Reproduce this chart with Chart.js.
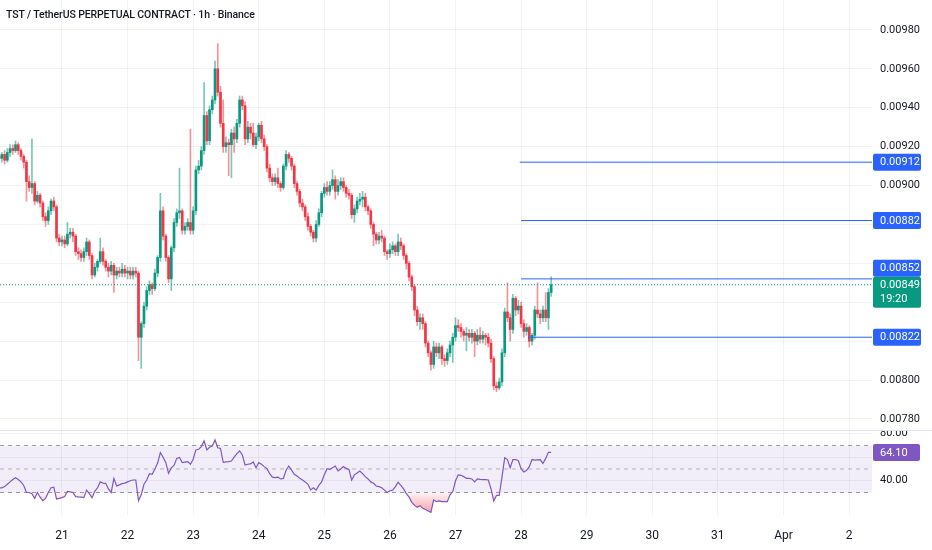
<!DOCTYPE html>
<html>
<head>
<meta charset="utf-8">
<script src="https://cdn.jsdelivr.net/npm/chart.js@4.4.1/dist/chart.umd.min.js"></script>
<style>
  html, body { margin: 0; padding: 0; background: #fff; }
  #wrap { position: relative; width: 932px; height: 550px; overflow: hidden; font-family: Roboto, "Noto Sans", sans-serif; }
  #priceBox { position: absolute; left: 0; top: 0; width: 932px; height: 430px; }
  #rsiBox { position: absolute; left: 0; top: 430px; width: 932px; height: 120px; border-top: 1px solid #e0e3eb; box-sizing: border-box; }
  #title { position: absolute; left: 6px; top: 8px; font-size: 10.5px; font-weight: 500; letter-spacing: -0.12px; color: #131722; white-space: nowrap; }
</style>
</head>
<body>
<div id="wrap">
  <div id="priceBox"><canvas id="priceChart" width="932" height="430"></canvas></div>
  <div id="rsiBox"><canvas id="rsiChart" width="932" height="119"></canvas></div>
  <div id="title">TST / TetherUS PERPETUAL CONTRACT · 1h · Binance</div>
</div>
<script>
// prices in units of 0.00001 USDT, one candle per hour, first candle = Mar 20 01:00
const firstHour = 1;
const openPrices = [
  915,914,916,913,917,919,918,921,918,915, 912,902,899,901,892,895,891,884,882,887,
  892,889,873,871,872,870,875,876,874,866, 865,863,866,871,864,854,858,861,866,861,
  858,856,859,854,856,855,857,855,856,854, 856,855,822,829,838,846,849,847,855,863,
  887,874,863,852,868,881,886,887,877,879, 881,877,887,908,910,918,936,923,939,944,
  960,948,932,920,922,921,927,924,932,944, 941,924,930,927,921,925,931,924,920,909,
  904,902,904,901,899,910,916,914,910,901, 897,891,889,884,879,876,873,880,886,896,
  899,897,900,903,897,900,902,899,896,895, 885,888,892,893,894,889,887,880,875,872,
  874,873,866,865,867,869,866,871,869,864, 860,853,848,836,830,832,829,819,814,808,
  817,814,817,811,810,814,818,822,828,827, 825,823,824,822,824,820,823,821,823,822,
  819,811,797,796,799,814,835,832,826,842, 836,838,829,825,827,820,823,836,834,832,
  836,832,845
];
const highPrices = [
  918,917,918,919,921,921,923,922,919,916, 913,905,924,902,897,896,892,886,889,893,
  894,890,875,874,874,881,878,878,875,868, 867,868,873,872,865,860,862,873,868,862,
  860,861,860,858,858,860,859,858,858,858, 858,856,830,840,848,851,850,857,864,896,
  889,875,864,869,883,888,909,888,881,883, 929,889,910,913,920,953,938,941,946,964,
  973,951,944,925,924,929,930,934,946,946, 943,933,932,932,927,932,933,926,921,911,
  906,906,909,902,911,918,917,915,911,902, 898,893,890,886,880,877,882,888,897,901,
  902,902,908,905,903,904,904,900,898,896, 890,894,896,897,896,890,888,881,876,876,
  877,874,867,870,871,870,875,873,870,865, 861,854,849,838,834,834,830,820,815,820,
  819,819,818,813,816,820,824,832,831,829, 826,827,826,826,825,826,827,825,824,824,
  821,812,799,801,816,837,850,834,844,843, 841,840,831,829,828,824,838,850,836,838,
  845,847,853
];
const lowPrices = [
  913,912,911,912,915,916,917,916,913,909, 892,897,896,890,891,889,882,879,880,885,
  887,871,869,869,868,869,873,871,864,862, 861,861,864,862,852,853,856,860,859,856,
  853,854,845,852,853,853,853,852,852,852, 853,810,806,827,836,844,844,846,853,861,
  872,861,850,846,866,879,883,875,875,877, 875,875,885,906,908,916,921,921,937,942,
  946,930,917,917,905,904,917,922,930,939, 921,922,924,920,919,923,922,918,907,902,
  900,900,899,897,898,908,912,908,899,895, 889,887,882,877,874,871,871,879,884,894,
  895,895,898,893,895,898,897,894,893,883, 881,886,890,889,887,885,878,869,870,870,
  871,864,862,863,865,864,864,867,862,857, 851,846,833,828,826,826,817,812,805,806,
  812,811,808,807,808,812,809,820,825,822, 820,815,820,819,812,818,819,819,818,817,
  809,795,794,795,797,812,830,820,824,833, 834,827,822,823,817,818,821,832,829,830,
  830,826,843
];
const closePrices = [
  914,916,913,917,919,918,921,918,915,912, 902,899,901,892,895,891,884,882,887,892,
  889,873,871,872,870,875,876,874,866,865, 863,866,871,864,854,858,861,866,861,858,
  856,859,854,856,855,857,855,856,854,856, 855,822,829,838,846,849,847,855,863,887,
  874,863,852,868,881,886,887,877,879,881, 877,887,908,910,918,936,923,939,944,960,
  948,932,920,922,921,927,924,932,944,941, 924,930,927,921,925,931,924,920,909,904,
  902,904,901,899,910,916,914,910,901,897, 891,889,884,879,876,873,880,886,896,899,
  897,900,903,897,900,902,899,896,895,885, 888,892,893,894,889,887,880,875,872,874,
  873,866,865,867,869,866,871,869,864,860, 853,848,836,830,832,829,819,814,808,817,
  814,817,811,810,814,818,822,828,827,825, 823,824,822,824,820,823,821,823,822,819,
  811,797,796,799,814,835,832,826,842,836, 838,829,825,827,820,823,836,834,832,836,
  832,845,849
];
const rsiValues = [
  34,34,35,37,39,41,42.6,41,39,36, 30,30,29,25,30,26,23,25,30,34,
  34.5,24.5,25,25.6,26.5,31,30.5,30,26.5,26.2, 26,25.6,32,29,25.6,31,34,39,38,37.8,
  33,30,42,35.6,36.5,37.5,38,39,40,40.6, 40.6,23,28,37,40.6,46,45.5,50,55,64,
  60,55.4,46.3,51,53,59,59.8,55.4,55.8,56.2, 54,58.3,66.2,66.8,69,73.8,66.2,68.5,69.5,74.7,
  68,67.5,55.7,56,56.3,56.8,60,63,65.3,61.9, 53.4,54,54.3,56,51.1,55.4,54,52,50.3,46,
  43,42.6,43.1,41.5,42,48.9,52.5,49,45.5,44, 42,40.6,39,37,32.2,34,32,36,39,45,
  50.2,49.6,51,52.5,48.3,50,52,50.5,49.6,40.6, 45,46.5,48.3,46,43.5,41.5,39,37.8,35.5,35,
  34,32,30,31.5,32,35,38.7,36,33,29, 26,21.6,19,17.4,18.8,16.5,15.5,14.2,13.1,23.6,
  22.2,22.8,22.2,22.2,22.2,28,30.8,40,45,44.6, 43.5,42,42,41.5,39,41.5,41.2,41,41,40.6,
  33,22.8,27.5,27.5,43,59.6,58,51,58,58, 57,50.2,47.5,48.9,52,58,57.5,57.8,58,54.7,
  59,64.2,64.1
];

const dayTicks = [24, 48, 72, 96, 120, 144, 168, 192, 216, 240, 264, 288, 312];
const dayLabels = ['21', '22', '23', '24', '25', '26', '27', '28', '29', '30', '31', 'Apr', '2'];
const priceTicks = [780, 800, 820, 840, 860, 880, 900, 920, 940, 960, 980];
const levelPrices = [912, 882, 852, 822];
const levelStartHours = [191.5, 192, 192, 194.5];
const rsiLevels = [70, 50, 30];
const rsiTicks = [40, 60, 80];
const countdown = '19:20';

const xMin = 1.32, xMax = 320.4;
const GREEN = '#089981', RED = '#f23645', BLUE = '#2962ff', PURPLE = '#7e57c2';
const GRID = 'rgba(42,46,57,0.06)';
const TEXT = '#131722';
const FAMILY = 'Roboto, "Noto Sans", sans-serif';
const AXIS_FONT = { family: FAMILY, size: 11 };
const DAY_FONT = { family: FAMILY, size: 12 };

const hours = closePrices.map((_, i) => firstHour + i);
const isUp = closePrices.map((c, i) => c >= openPrices[i]);
const lastPrice = closePrices[closePrices.length - 1];
const lastRsi = rsiValues[rsiValues.length - 1];
const fmtPrice = v => (v / 100000).toFixed(5);

function noPad(scale) {
  scale.paddingTop = 0; scale.paddingBottom = 0;
  scale.paddingLeft = 0; scale.paddingRight = 0;
}
function fixWidth(scale) { scale.width = 60; noPad(scale); }

// price-axis tags: blue for the drawn levels, green for the last price (+ countdown)
const BOX_H = 17;
function priceTags(y) {
  const cy = y.getPixelForValue(lastPrice);
  const cur = { top: cy - 8, bottom: cy + 23 };
  const tags = levelPrices.map(p => {
    const py = y.getPixelForValue(p);
    let top = py - BOX_H / 2;
    if (top < cur.bottom && top + BOX_H > cur.top) top = py < cy ? cur.top - BOX_H : cur.bottom;
    return { p, top, bottom: top + BOX_H };
  });
  return { cy, cur, tags };
}

function drawBox(ctx, x, top, w, h, color) {
  ctx.fillStyle = color;
  ctx.beginPath();
  if (ctx.roundRect) ctx.roundRect(x, top, w, h, 2); else ctx.rect(x, top, w, h);
  ctx.fill();
}

const priceBoxes = {
  id: 'priceBoxes',
  afterDraw(chart) {
    const { ctx } = chart;
    const y = chart.scales.y;
    const left = y.left + 1, w = 48;
    const { cy, cur, tags } = priceTags(y);
    ctx.save();
    ctx.font = '11px ' + FAMILY;
    ctx.textBaseline = 'middle';
    tags.forEach(t => {
      drawBox(ctx, left, t.top, w, BOX_H, BLUE);
      ctx.fillStyle = '#fff';
      ctx.fillText(fmtPrice(t.p), left + 7, t.top + BOX_H / 2 + 0.5);
    });
    drawBox(ctx, left, cur.top, w, cur.bottom - cur.top, GREEN);
    ctx.fillStyle = '#fff';
    ctx.fillText(fmtPrice(lastPrice), left + 7, cy + 0.5);
    ctx.fillText(countdown, left + 7, cy + 14.5);
    ctx.restore();
  }
};

const rsiBox = {
  id: 'rsiBox',
  afterDraw(chart) {
    const { ctx } = chart;
    const y = chart.scales.y;
    const left = y.left + 1, w = 47;
    const py = y.getPixelForValue(lastRsi);
    ctx.save();
    ctx.font = '11px ' + FAMILY;
    ctx.textBaseline = 'middle';
    drawBox(ctx, left, py - BOX_H / 2, w, BOX_H, PURPLE);
    ctx.fillStyle = '#fff';
    ctx.fillText(lastRsi.toFixed(2), left + 7, py + 0.5);
    ctx.restore();
  }
};

// labels that sit under a tag are not shown (resolved at draw time, after layout)
function priceTickColor(c) {
  const py = c.scale.getPixelForValue(c.tick.value);
  const { cur, tags } = priceTags(c.scale);
  const hidden = [cur, ...tags].some(b => py > b.top - 3 && py < b.bottom + 3);
  return hidden ? 'transparent' : TEXT;
}

const levelLines = levelPrices.map((p, i) => ({
  type: 'line',
  data: [{ x: levelStartHours[i], y: p }, { x: xMax, y: p }],
  borderColor: BLUE, borderWidth: 1, pointRadius: 0, fill: false
}));

new Chart(document.getElementById('priceChart'), {
  type: 'bar',
  data: {
    datasets: [
      ...levelLines,
      {
        type: 'line',
        data: [{ x: xMin, y: lastPrice }, { x: xMax, y: lastPrice }],
        borderColor: GREEN, borderWidth: 1, borderDash: [1, 2], pointRadius: 0, fill: false
      },
      {
        data: hours.map((h, i) => ({ x: h, y: [openPrices[i], closePrices[i]] })),
        backgroundColor: isUp.map(u => u ? GREEN : RED),
        barThickness: 2, minBarLength: 1, grouped: false, borderWidth: 0
      },
      {
        data: hours.map((h, i) => ({ x: h, y: [lowPrices[i], highPrices[i]] })),
        backgroundColor: isUp.map(u => u ? 'rgba(8,153,129,0.55)' : 'rgba(242,54,69,0.55)'),
        barThickness: 1, grouped: false, borderWidth: 0
      }
    ]
  },
  options: {
    responsive: false,
    animation: false,
    layout: { padding: 0 },
    plugins: { legend: { display: false }, tooltip: { enabled: false } },
    scales: {
      x: {
        type: 'linear', min: xMin, max: xMax, offset: false,
        afterBuildTicks: s => { s.ticks = dayTicks.map(v => ({ value: v })); },
        afterFit: s => { s.height = 0; noPad(s); },
        ticks: { display: false },
        grid: { color: GRID, drawTicks: false, offset: false },
        border: { display: false }
      },
      y: {
        position: 'right', min: 774.3, max: 995.4, beginAtZero: false,
        afterBuildTicks: s => { s.ticks = priceTicks.map(v => ({ value: v })); },
        afterFit: fixWidth,
        ticks: { callback: v => fmtPrice(v), color: priceTickColor, font: AXIS_FONT, padding: 8 },
        grid: { color: GRID, drawTicks: false },
        border: { display: false }
      }
    }
  },
  plugins: [priceBoxes]
});

const levelData = v => [{ x: xMin, y: v }, { x: xMax, y: v }];
const rsiPoints = hours.map((h, i) => ({ x: h, y: rsiValues[i] }));

function zoneGradient(context, from, to, color) {
  const chart = context.chart;
  if (!chart.chartArea) return 'transparent';
  const y = chart.scales.y;
  const g = chart.ctx.createLinearGradient(0, y.getPixelForValue(from), 0, y.getPixelForValue(to));
  g.addColorStop(0, color.replace('A', '0.05'));
  g.addColorStop(1, color.replace('A', '0.55'));
  return g;
}

new Chart(document.getElementById('rsiChart'), {
  type: 'line',
  data: {
    datasets: [
      { data: rsiPoints, borderColor: PURPLE, borderWidth: 1.2, pointRadius: 0, fill: false, tension: 0 },
      {
        data: rsiPoints, borderWidth: 0, pointRadius: 0,
        backgroundColor: c => zoneGradient(c, rsiLevels[2], 10, 'rgba(242,54,69,A)'),
        fill: { target: { value: rsiLevels[2] }, above: 'transparent' }
      },
      {
        data: rsiPoints, borderWidth: 0, pointRadius: 0,
        backgroundColor: c => zoneGradient(c, rsiLevels[0], 90, 'rgba(8,153,129,A)'),
        fill: { target: { value: rsiLevels[0] }, below: 'transparent' }
      },
      {
        data: levelData(rsiLevels[0]), borderColor: 'rgba(120,123,134,0.75)', borderWidth: 1,
        borderDash: [4, 4], pointRadius: 0,
        backgroundColor: 'rgba(126,87,194,0.1)', fill: { target: { value: rsiLevels[2] } }
      },
      {
        data: levelData(rsiLevels[1]), borderColor: 'rgba(120,123,134,0.5)', borderWidth: 1,
        borderDash: [4, 4], pointRadius: 0, fill: false
      },
      {
        data: levelData(rsiLevels[2]), borderColor: 'rgba(120,123,134,0.75)', borderWidth: 1,
        borderDash: [4, 4], pointRadius: 0, fill: false
      }
    ]
  },
  options: {
    responsive: false,
    animation: false,
    layout: { padding: 0 },
    plugins: { legend: { display: false }, tooltip: { enabled: false } },
    scales: {
      x: {
        type: 'linear', min: xMin, max: xMax, offset: false,
        afterBuildTicks: s => { s.ticks = dayTicks.map(v => ({ value: v })); },
        afterFit: s => { s.height = 35; noPad(s); },
        ticks: {
          callback: v => dayLabels[dayTicks.indexOf(v)],
          autoSkip: false, maxRotation: 0, color: TEXT, font: DAY_FONT, padding: 14
        },
        grid: { color: GRID, drawTicks: false },
        border: { display: false }
      },
      y: {
        position: 'right', min: 10.85, max: 82.3,
        afterBuildTicks: s => { s.ticks = rsiTicks.map(v => ({ value: v })); },
        afterFit: fixWidth,
        ticks: {
          callback: v => Math.abs(v - lastRsi) < 8 ? '' : v.toFixed(2),
          color: TEXT, font: AXIS_FONT, padding: 8
        },
        grid: { color: GRID, drawTicks: false },
        border: { display: false }
      }
    }
  },
  plugins: [rsiBox]
});
</script>
</body>
</html>
